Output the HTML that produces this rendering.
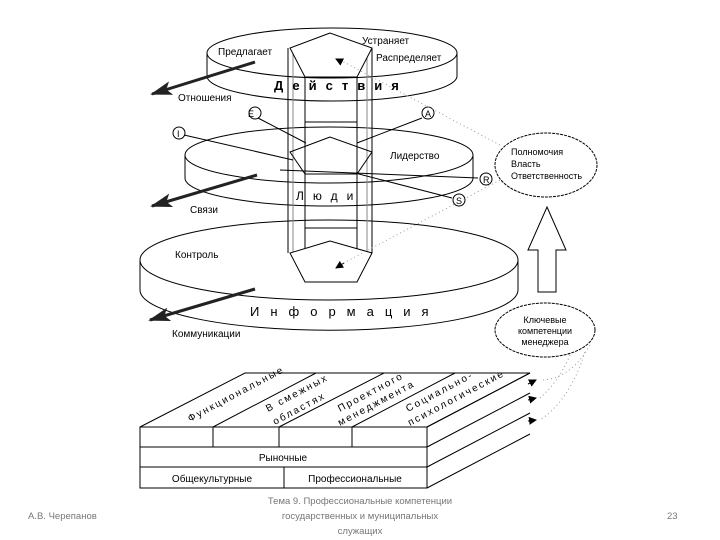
<!DOCTYPE html>
<html><head><meta charset="utf-8"><style>
body{margin:0;background:#fff;}
svg{display:block;font-family:"Liberation Sans",sans-serif;}
</style></head><body>
<svg width="720" height="540" viewBox="0 0 720 540" xmlns="http://www.w3.org/2000/svg">
<defs>
<marker id="ah" markerWidth="8" markerHeight="8" refX="7" refY="4" orient="auto" markerUnits="userSpaceOnUse"><path d="M0,0 L8,4 L0,8 z" fill="#000"/></marker>
<marker id="bh" markerWidth="22" markerHeight="14" refX="20" refY="7" orient="auto" markerUnits="userSpaceOnUse"><path d="M0,0 L22,7 L0,14 L5,7 z" fill="#222"/></marker>
</defs>
<g fill="none" stroke="#000" stroke-width="1">
<!-- bottom disk -->
<path d="M140,260 L140,290 A188,40 0 0 0 518,290 L518,260"/>
<ellipse cx="329" cy="260" rx="189" ry="40" fill="#fff"/>
<!-- middle disk -->
<path d="M185,155 L185,178 A144,28 0 0 0 473,178 L473,155"/>
<ellipse cx="329" cy="155" rx="144" ry="28" fill="#fff"/>
<!-- top disk -->
<path d="M207,53 L207,76 A125,25 0 0 0 457,76 L457,53"/>
<ellipse cx="332" cy="53" rx="125" ry="25" fill="#fff"/>
<!-- column -->
<line x1="288" y1="48" x2="288" y2="253"/><line x1="305" y1="77" x2="305" y2="282"/>
<line x1="357" y1="77" x2="357" y2="282"/><line x1="372" y1="48" x2="372" y2="253"/>
<line x1="293" y1="48" x2="293" y2="253" stroke="#888"/><line x1="367" y1="48" x2="367" y2="253" stroke="#888"/>
<line x1="305" y1="122" x2="357" y2="122"/><line x1="305" y1="228" x2="357" y2="228"/>
<path d="M330,33 L290,48 L305,77 L357,77 L372,48 Z" fill="#fff"/>
<path d="M330,137 L290,152 L305,174 L357,174 L372,152 Z"/>
<path d="M330,241 L290,253 L305,282 L357,282 L372,253 Z" fill="#fff"/>
<!-- lines from letters -->
<line x1="258" y1="118" x2="306" y2="143"/>
<line x1="422" y1="118" x2="357" y2="143"/>
<line x1="184" y1="135" x2="293" y2="160"/>
<line x1="280" y1="170" x2="478" y2="178"/>
<line x1="355" y1="173" x2="452" y2="198"/>
<circle cx="255" cy="113" r="6"/><circle cx="428" cy="113" r="6"/>
<circle cx="179" cy="133" r="6"/><circle cx="486" cy="179" r="6"/><circle cx="459" cy="200" r="6"/>
<!-- right ellipses -->
<ellipse cx="546" cy="165" rx="51" ry="32" stroke-dasharray="3,1"/>
<ellipse cx="545" cy="330" rx="50" ry="27" stroke-dasharray="3,1"/>
<path d="M547,207 L566,250 L556,250 L556,292 L538,292 L538,250 L528,250 Z"/>
<!-- dotted lines -->
<g stroke="#999" stroke-dasharray="1,3">
<line x1="340" y1="60" x2="500" y2="145"/><line x1="340" y1="265" x2="500" y2="180"/>
<path d="M570,355 Q560,380 540,398"/><path d="M590,345 Q570,380 540,380"/><path d="M585,352 Q570,400 540,420"/>
</g>
<line x1="342" y1="62" x2="336" y2="59" marker-end="url(#ah)"/>
<line x1="344" y1="263" x2="336" y2="268" marker-end="url(#ah)"/>
<line x1="528" y1="384" x2="536" y2="380" marker-end="url(#ah)"/>
<line x1="528" y1="400" x2="536" y2="398" marker-end="url(#ah)"/>
<line x1="528" y1="421" x2="536" y2="420" marker-end="url(#ah)"/>
<!-- big arrows -->
<g stroke="#222" stroke-width="3">
<line x1="255" y1="62" x2="152" y2="94" marker-end="url(#bh)"/>
<line x1="257" y1="175" x2="152" y2="206" marker-end="url(#bh)"/>
<line x1="255" y1="289" x2="150" y2="320" marker-end="url(#bh)"/>
</g>
<!-- box -->
<path d="M140,427 L245,373 L530,373 L427,427 Z" fill="#fff"/>
<rect x="140" y="427" width="287" height="61"/>
<line x1="140" y1="447" x2="427" y2="447"/><line x1="140" y1="467" x2="427" y2="467"/>
<line x1="213" y1="427" x2="213" y2="447"/><line x1="279" y1="427" x2="279" y2="447"/><line x1="352" y1="427" x2="352" y2="447"/>
<line x1="284" y1="467" x2="284" y2="488"/>
<line x1="213" y1="427" x2="316" y2="373"/><line x1="279" y1="427" x2="384" y2="373"/><line x1="352" y1="427" x2="455" y2="373"/>
<line x1="427" y1="427" x2="530" y2="373"/><line x1="427" y1="447" x2="530" y2="393"/><line x1="427" y1="467" x2="530" y2="413"/><line x1="427" y1="488" x2="530" y2="434"/>
</g>
<g font-size="10" fill="#000">
<text x="218" y="55">Предлагает</text>
<text x="362" y="44">Устраняет</text>
<text x="376" y="61">Распределяет</text>
<text x="178" y="101">Отношения</text>
<text x="390" y="159">Лидерство</text>
<text x="190" y="213">Связи</text>
<text x="175" y="258">Контроль</text>
<text x="172" y="337">Коммуникации</text>
<text x="274" y="90" font-size="13" font-weight="bold" letter-spacing="9">Действия</text>
<text x="296" y="200" font-size="12" letter-spacing="9">Люди</text>
<text x="250" y="316" font-size="13" letter-spacing="11">Информация</text>
<text x="251" y="117" font-size="9" text-anchor="middle">E</text>
<text x="425" y="117" font-size="9">A</text>
<text x="177" y="137" font-size="9">I</text>
<text x="483" y="183" font-size="9">R</text>
<text x="456" y="204" font-size="9">S</text>
<text x="511" y="155" font-size="9">Полномочия</text>
<text x="511" y="167" font-size="9">Власть</text>
<text x="511" y="179" font-size="9">Ответственность</text>
<text x="545" y="323" font-size="9" text-anchor="middle">Ключевые</text>
<text x="545" y="334" font-size="9" text-anchor="middle">компетенции</text>
<text x="545" y="345" font-size="9" text-anchor="middle">менеджера</text>
<text x="283" y="461" text-anchor="middle">Рыночные</text>
<text x="212" y="482" text-anchor="middle">Общекультурные</text>
<text x="355" y="482" text-anchor="middle">Профессиональные</text>
<g font-size="10" letter-spacing="2">
<text transform="translate(190,422) rotate(-28)">Функциональные</text>
<text transform="translate(268,412) rotate(-28)">В смежных</text>
<text transform="translate(275,425) rotate(-28)">областях</text>
<text transform="translate(340,412) rotate(-28)">Проектного</text>
<text transform="translate(340,426) rotate(-28)">менеджмента</text>
<text transform="translate(408,412) rotate(-28)">Социально-</text>
<text transform="translate(410,426) rotate(-28)">психологические</text>
</g>
</g>
<g font-size="9.5" fill="#777">
<text x="28" y="519">А.В. Черепанов</text>
<text x="360" y="504" text-anchor="middle">Тема 9. Профессиональные компетенции</text>
<text x="360" y="519" text-anchor="middle">государственных и муниципальных</text>
<text x="360" y="534" text-anchor="middle">служащих</text>
<text x="667" y="519">23</text>
</g>
</svg>
</body></html>
